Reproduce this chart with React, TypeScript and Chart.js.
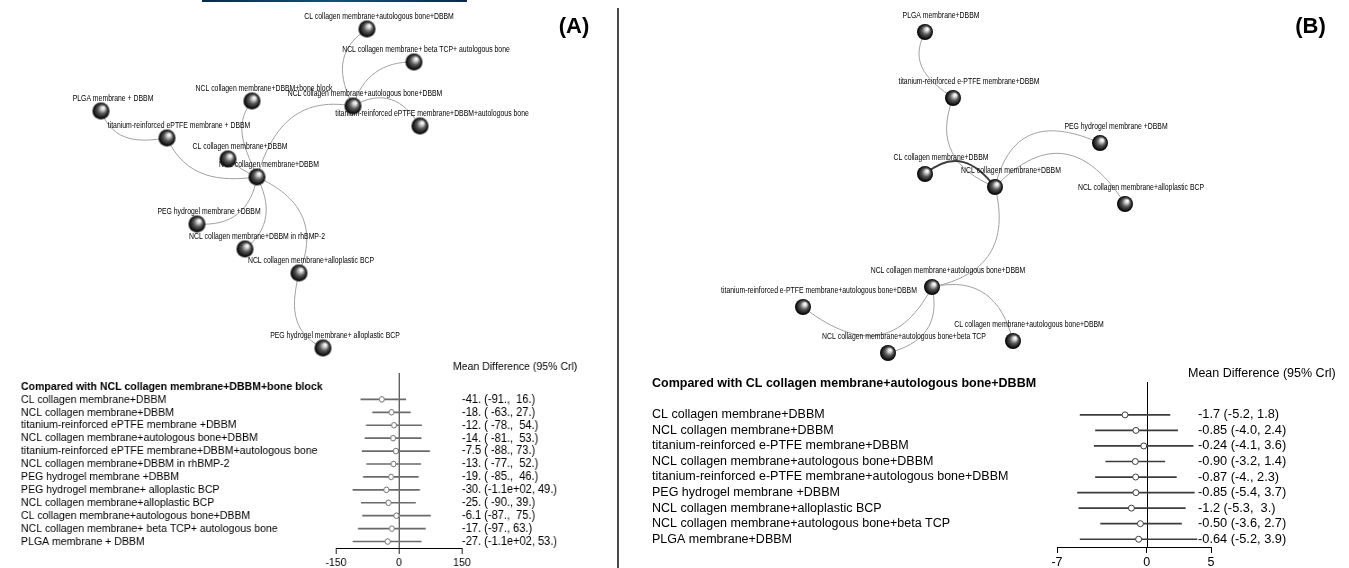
import React, { useEffect, useRef } from 'react';
import { Chart, registerables } from 'chart.js';

Chart.register(...registerables);

const FAMILY = "'Liberation Sans', Arial, Helvetica, sans-serif";
Chart.defaults.font.family = FAMILY;
Chart.defaults.color = '#000';

// ================= DATA =================
// Network (A): node names and layout coordinates
const nodeNamesA = [
  'CL collagen membrane+autologous bone+DBBM',
  'NCL collagen membrane+ beta TCP+ autologous bone',
  'NCL collagen membrane+DBBM+bone block',
  'PLGA membrane + DBBM',
  'NCL collagen membrane+autologous bone+DBBM',
  'titanium-reinforced ePTFE membrane+DBBM+autologous bone',
  'titanium-reinforced ePTFE membrane + DBBM',
  'CL collagen membrane+DBBM',
  'NCL collagen membrane+DBBM',
  'PEG hydrogel membrane +DBBM',
  'NCL collagen membrane+DBBM in rhBMP-2',
  'NCL collagen membrane+alloplastic BCP',
  'PEG hydrogel membrane+ alloplastic BCP',
];
const nodeXA = [367, 414, 252, 101, 353, 420, 167, 228, 257, 197, 245, 299, 323];
const nodeYA = [29, 62, 101, 111, 106, 126, 138, 159, 177, 224, 249, 273, 348];
const edgesA = [[0, 4], [1, 4], [4, 5], [4, 8], [2, 8], [3, 6], [6, 8], [7, 8], [9, 8], [10, 8], [11, 8], [12, 11]];
const edgeStudiesA = [1, 1, 1, 1, 1, 1, 1, 1, 1, 1, 1, 1];

// Network (B)
const nodeNamesB = [
  'PLGA membrane+DBBM',
  'titanium-reinforced e-PTFE membrane+DBBM',
  'CL collagen membrane+DBBM',
  'NCL collagen membrane+DBBM',
  'PEG hydrogel membrane +DBBM',
  'NCL collagen membrane+alloplastic BCP',
  'NCL collagen membrane+autologous bone+DBBM',
  'titanium-reinforced e-PTFE membrane+autologous bone+DBBM',
  'CL collagen membrane+autologous bone+DBBM',
  'NCL collagen membrane+autologous bone+beta TCP',
];
const nodeXB = [925, 953, 925, 995, 1100, 1125, 932, 803, 1013, 888];
const nodeYB = [32, 98, 174, 187, 143, 204, 287, 307, 341, 353];
const edgesB = [[0, 1], [1, 3], [2, 3], [3, 4], [3, 5], [3, 6], [6, 7], [6, 9], [6, 8]];
const edgeStudiesB = [1, 1, 2, 1, 1, 1, 1, 1, 1];

// Forest (A)
const headerA = 'Compared with NCL collagen membrane+DBBM+bone block';
const rowsA = [
  'CL collagen membrane+DBBM',
  'NCL collagen membrane+DBBM',
  'titanium-reinforced ePTFE membrane +DBBM',
  'NCL collagen membrane+autologous bone+DBBM',
  'titanium-reinforced ePTFE membrane+DBBM+autologous bone',
  'NCL collagen membrane+DBBM in rhBMP-2',
  'PEG hydrogel membrane +DBBM',
  'PEG hydrogel membrane+ alloplastic BCP',
  'NCL collagen membrane+alloplastic BCP',
  'CL collagen membrane+autologous bone+DBBM',
  'NCL collagen membrane+ beta TCP+ autologous bone',
  'PLGA membrane + DBBM',
];
const meanA = [-41, -18, -12, -14, -7.5, -13, -19, -30, -25, -6.1, -17, -27];
const lowA = [-91, -63, -78, -81, -88, -77, -85, -110, -90, -87, -97, -110];
const highA = [16, 27, 54, 53, 73, 52, 46, 49, 39, 75, 63, 53];
const ciTextA = [
  '-41. (-91.,  16.)',
  '-18. ( -63., 27.)',
  '-12. ( -78.,  54.)',
  '-14. ( -81.,  53.)',
  '-7.5 ( -88., 73.)',
  '-13. ( -77.,  52.)',
  '-19. ( -85.,  46.)',
  '-30. (-1.1e+02, 49.)',
  '-25. ( -90., 39.)',
  '-6.1 (-87.,  75.)',
  '-17. (-97., 63.)',
  '-27. (-1.1e+02, 53.)',
];
const ticksA = [-150, 0, 150];

// Forest (B)
const headerB = 'Compared with CL collagen membrane+autologous bone+DBBM';
const rowsB = [
  'CL collagen membrane+DBBM',
  'NCL collagen membrane+DBBM',
  'titanium-reinforced e-PTFE membrane+DBBM',
  'NCL collagen membrane+autologous bone+DBBM',
  'titanium-reinforced e-PTFE membrane+autologous bone+DBBM',
  'PEG hydrogel membrane +DBBM',
  'NCL collagen membrane+alloplastic BCP',
  'NCL collagen membrane+autologous bone+beta TCP',
  'PLGA membrane+DBBM',
];
const meanB = [-1.7, -0.85, -0.24, -0.9, -0.87, -0.85, -1.2, -0.5, -0.64];
const lowB = [-5.2, -4.0, -4.1, -3.2, -4.0, -5.4, -5.3, -3.6, -5.2];
const highB = [1.8, 2.4, 3.6, 1.4, 2.3, 3.7, 3.0, 2.7, 3.9];
const ciTextB = [
  '-1.7 (-5.2, 1.8)',
  '-0.85 (-4.0, 2.4)',
  '-0.24 (-4.1, 3.6)',
  '-0.90 (-3.2, 1.4)',
  '-0.87 (-4., 2.3)',
  '-0.85 (-5.4, 3.7)',
  '-1.2 (-5.3,  3.)',
  '-0.50 (-3.6, 2.7)',
  '-0.64 (-5.2, 3.9)',
];
const ticksB = [-7, 0, 5];

const forestTitle = 'Mean Difference (95% Crl)';

// ================= STYLE =================
const edgeBendA = [[0.35, 0.25], [0.25, 0.25], [-0.35, -0.3], [0.35, 0.25], [0.3, 0.1], [0.35, 0.2], [0.3, 0.2], [0.05, 0.05], [0.3, 0.3], [0.3, 0.25], [0.35, 0.3], [-0.35, -0.2]];
const edgeBendB = [[0.4, 0.2], [0.35, 0.3], [-0.4, -0.3], [-0.45, -0.35], [-0.45, -0.4], [-0.35, -0.35], [-0.45, -0.35], [-0.35, -0.3], [-0.35, -0.3]];

function makeSphere(r: number) {
  const c = document.createElement('canvas');
  const s = Math.ceil(r * 2 + 2);
  c.width = s;
  c.height = s;
  const g = c.getContext('2d')!;
  const cx = s / 2;
  const cy = s / 2;
  const grad = g.createRadialGradient(cx + r * 0.3, cy - r * 0.4, r * 0.05, cx, cy, r);
  grad.addColorStop(0, '#ffffff');
  grad.addColorStop(0.18, '#d8d8d8');
  grad.addColorStop(0.5, '#5a5a5a');
  grad.addColorStop(0.85, '#151515');
  grad.addColorStop(1, '#000000');
  g.fillStyle = grad;
  g.beginPath();
  g.arc(cx, cy, r, 0, Math.PI * 2);
  g.fill();
  return c;
}

type NetSpec = {
  names: string[];
  xs: number[];
  ys: number[];
  edges: number[][];
  studies: number[];
  bends: number[][];
  xMin: number;
  xMax: number;
  yMax: number;
  radius: number;
  labelDx: number;
  labelDy: number;
  panel: string;
  panelX: number;
  panelY: number;
};

function networkConfig(n: NetSpec): any {
  const plugin = {
    id: 'network',
    beforeDatasetsDraw(chart: any) {
      const { ctx } = chart;
      const pts = chart.getDatasetMeta(0).data;
      ctx.save();
      n.edges.forEach((e, k) => {
        const a = pts[e[0]];
        const b = pts[e[1]];
        const dx = b.x - a.x;
        const dy = b.y - a.y;
        const len = Math.hypot(dx, dy);
        const nx = -dy / len;
        const ny = dx / len;
        const [b1, b2] = n.bends[k];
        const heavy = n.studies[k] > 1;
        ctx.strokeStyle = heavy ? '#3a3a3a' : '#a0a0a0';
        ctx.lineWidth = heavy ? 2 : 1;
        ctx.beginPath();
        ctx.moveTo(a.x, a.y);
        ctx.bezierCurveTo(
          a.x + dx / 3 + nx * b1 * len, a.y + dy / 3 + ny * b1 * len,
          a.x + (2 * dx) / 3 + nx * b2 * len, a.y + (2 * dy) / 3 + ny * b2 * len,
          b.x, b.y
        );
        ctx.stroke();
      });
      ctx.fillStyle = '#000';
      ctx.font = `8.4px ${FAMILY}`;
      ctx.textAlign = 'center';
      ctx.textBaseline = 'middle';
      n.names.forEach((name, i) => {
        const p = pts[i];
        ctx.save();
        ctx.translate(p.x + n.labelDx, p.y + n.labelDy);
        ctx.scale(0.82, 1);
        ctx.fillText(name, 0, 0);
        ctx.restore();
      });
      ctx.restore();
    },
    afterDraw(chart: any) {
      const { ctx, scales } = chart;
      ctx.save();
      ctx.font = `bold 22px ${FAMILY}`;
      ctx.textAlign = 'center';
      ctx.textBaseline = 'middle';
      ctx.fillStyle = '#000';
      ctx.fillText(n.panel, scales.x.getPixelForValue(n.panelX), scales.y.getPixelForValue(n.panelY));
      ctx.restore();
    },
  };
  return {
    type: 'scatter',
    data: {
      datasets: [
        {
          data: n.names.map((_, i) => ({ x: n.xs[i], y: n.ys[i] })),
          pointStyle: makeSphere(n.radius),
          pointRadius: n.radius,
          pointHoverRadius: n.radius,
          clip: false,
        },
      ],
    },
    options: {
      animation: false,
      responsive: true,
      maintainAspectRatio: false,
      events: [],
      layout: { padding: 0, autoPadding: false },
      scales: {
        x: { type: 'linear', display: false, min: n.xMin, max: n.xMax },
        y: { type: 'linear', display: false, min: 0, max: n.yMax, reverse: true },
      },
      plugins: { legend: { display: false }, tooltip: { enabled: false } },
    },
    plugins: [plugin],
  };
}

type ForestSpec = {
  header: string;
  rows: string[];
  mean: number[];
  low: number[];
  high: number[];
  ci: string[];
  ticks: number[];
  blankRows: number;
  fontSize: number;
  ciFontSize: number;
  padLeft: number;
  padTop: number;
  padRight: number;
  yWidth: number;
  ciDx: number;
  xHeight: number;
  zeroTop: number;
  titleDx: number;
  titleDy: number;
  pointR: number;
  lineColor: string;
};

function forestConfig(f: ForestSpec): any {
  const blanks = Array.from({ length: f.blankRows }, () => '');
  const labels = [f.header, ...blanks, ...f.rows];
  const lead = [null, ...blanks.map(() => null)];
  const fontN = { family: FAMILY, size: f.fontSize };
  const fontB = { family: FAMILY, size: f.fontSize, weight: 'bold' };
  const decor = {
    id: 'forestDecor',
    beforeDatasetsDraw(chart: any) {
      const { ctx, chartArea, scales } = chart;
      const x0 = Math.round(scales.x.getPixelForValue(0)) + 0.5;
      ctx.save();
      ctx.strokeStyle = '#000';
      ctx.lineWidth = 1;
      ctx.beginPath();
      ctx.moveTo(x0, chartArea.top + f.zeroTop);
      ctx.lineTo(x0, chartArea.bottom);
      ctx.stroke();
      ctx.fillStyle = '#000';
      ctx.font = `${f.fontSize}px ${FAMILY}`;
      ctx.textAlign = 'left';
      ctx.textBaseline = 'middle';
      ctx.fillText(forestTitle, chartArea.right + f.titleDx, chartArea.top + f.titleDy);
      ctx.font = `${f.ciFontSize}px ${FAMILY}`;
      f.ci.forEach((t, i) => {
        const y = scales.y.getPixelForValue(i + lead.length);
        ctx.fillText(t, chartArea.right + f.ciDx, y);
      });
      ctx.restore();
    },
  };
  return {
    type: 'bar',
    data: {
      labels,
      datasets: [
        {
          type: 'scatter',
          data: f.rows.map((r, i) => ({ x: f.mean[i], y: r })),
          pointRadius: f.pointR,
          pointHoverRadius: f.pointR,
          pointBackgroundColor: '#fff',
          pointBorderColor: f.lineColor,
          pointBorderWidth: 1,
          order: 0,
        },
        {
          type: 'bar',
          data: [...lead, ...f.rows.map((_, i) => [f.low[i], f.high[i]])],
          backgroundColor: f.lineColor,
          barThickness: 1,
          borderWidth: 0,
          order: 1,
        },
      ],
    },
    options: {
      indexAxis: 'y',
      animation: false,
      responsive: true,
      maintainAspectRatio: false,
      events: [],
      layout: { padding: { left: f.padLeft, top: f.padTop, right: f.padRight, bottom: 0 }, autoPadding: false },
      plugins: { legend: { display: false }, tooltip: { enabled: false } },
      scales: {
        x: {
          type: 'linear',
          position: 'bottom',
          min: f.ticks[0],
          max: f.ticks[f.ticks.length - 1],
          afterBuildTicks: (s: any) => {
            s.ticks = f.ticks.map((v) => ({ value: v }));
          },
          afterFit: (s: any) => {
            s.height = f.xHeight;
          },
          grid: { display: true, drawOnChartArea: false, drawTicks: true, tickLength: 6, color: '#000', lineWidth: 1 },
          border: { display: true, color: '#000', width: 1 },
          ticks: { font: fontN, color: '#000', padding: 2, autoSkip: false, maxRotation: 0 },
        },
        y: {
          type: 'category',
          position: 'left',
          offset: true,
          afterFit: (s: any) => {
            s.width = f.yWidth;
          },
          grid: { display: false, drawTicks: false },
          border: { display: false },
          ticks: {
            crossAlign: 'far',
            autoSkip: false,
            padding: 0,
            color: '#000',
            font: (c: any) => (c.index === 0 ? fontB : fontN),
          },
        },
      },
    },
    plugins: [decor],
  };
}

function ChartBox({ style, make }: { style: React.CSSProperties; make: () => any }) {
  const ref = useRef<HTMLCanvasElement>(null);
  useEffect(() => {
    const chart = new Chart(ref.current!, make());
    return () => chart.destroy();
  }, []);
  return (
    <div style={{ position: 'absolute', ...style }}>
      <canvas ref={ref} />
    </div>
  );
}

const SQ = 0.9; // horizontal compression of forest (A)

export default function App() {
  return (
    <div
      style={{
        position: 'fixed',
        left: 0,
        top: 0,
        width: 1349,
        height: 568,
        background: '#fff',
        overflow: 'hidden',
      }}
    >
      <div
        style={{
          position: 'absolute',
          left: 202,
          top: 0,
          width: 265,
          height: 2,
          background: 'linear-gradient(to right, #0b2a48, #0a5577 50%, #0b2a48)',
        }}
      />
      <div style={{ position: 'absolute', left: 617, top: 8, width: 2, height: 560, background: '#4a4a4a' }} />

      <ChartBox
        style={{ left: 0, top: 0, width: 618, height: 362 }}
        make={() =>
          networkConfig({
            names: nodeNamesA,
            xs: nodeXA,
            ys: nodeYA,
            edges: edgesA,
            studies: edgeStudiesA,
            bends: edgeBendA,
            xMin: 0,
            xMax: 618,
            yMax: 362,
            radius: 8.5,
            labelDx: 12,
            labelDy: -12.5,
            panel: '(A)',
            panelX: 574,
            panelY: 27,
          })
        }
      />
      <ChartBox
        style={{ left: 619, top: 0, width: 730, height: 362 }}
        make={() =>
          networkConfig({
            names: nodeNamesB,
            xs: nodeXB,
            ys: nodeYB,
            edges: edgesB,
            studies: edgeStudiesB,
            bends: edgeBendB,
            xMin: 619,
            xMax: 1349,
            yMax: 362,
            radius: 8,
            labelDx: 16,
            labelDy: -16.5,
            panel: '(B)',
            panelX: 1310.5,
            panelY: 27,
          })
        }
      />
      <ChartBox
        style={{
          left: 0,
          top: 360,
          width: 687,
          height: 208,
          transform: `scaleX(${SQ})`,
          transformOrigin: '0 0',
        }}
        make={() =>
          forestConfig({
            header: headerA,
            rows: rowsA,
            mean: meanA,
            low: lowA,
            high: highA,
            ci: ciTextA,
            ticks: ticksA,
            blankRows: 0,
            fontSize: 11.7,
            ciFontSize: 12.3,
            padLeft: 21 / SQ,
            padTop: 20,
            padRight: 687 - 462 / SQ,
            yWidth: 315 / SQ,
            ciDx: 0,
            xHeight: 20,
            zeroTop: -7,
            titleDx: -10,
            titleDy: -13,
            pointR: 2.8,
            lineColor: '#6a6a6a',
          })
        }
      />
      <ChartBox
        style={{ left: 618, top: 360, width: 731, height: 208 }}
        make={() =>
          forestConfig({
            header: headerB,
            rows: rowsB,
            mean: meanB,
            low: lowB,
            high: highB,
            ci: ciTextB,
            ticks: ticksB,
            blankRows: 1,
            fontSize: 12.5,
            ciFontSize: 12.8,
            padLeft: 34,
            padTop: 16,
            padRight: 138,
            yWidth: 405,
            ciDx: -13,
            xHeight: 21,
            zeroTop: 6,
            titleDx: -23,
            titleDy: -2,
            pointR: 3,
            lineColor: '#3c3c3c',
          })
        }
      />
    </div>
  );
}
